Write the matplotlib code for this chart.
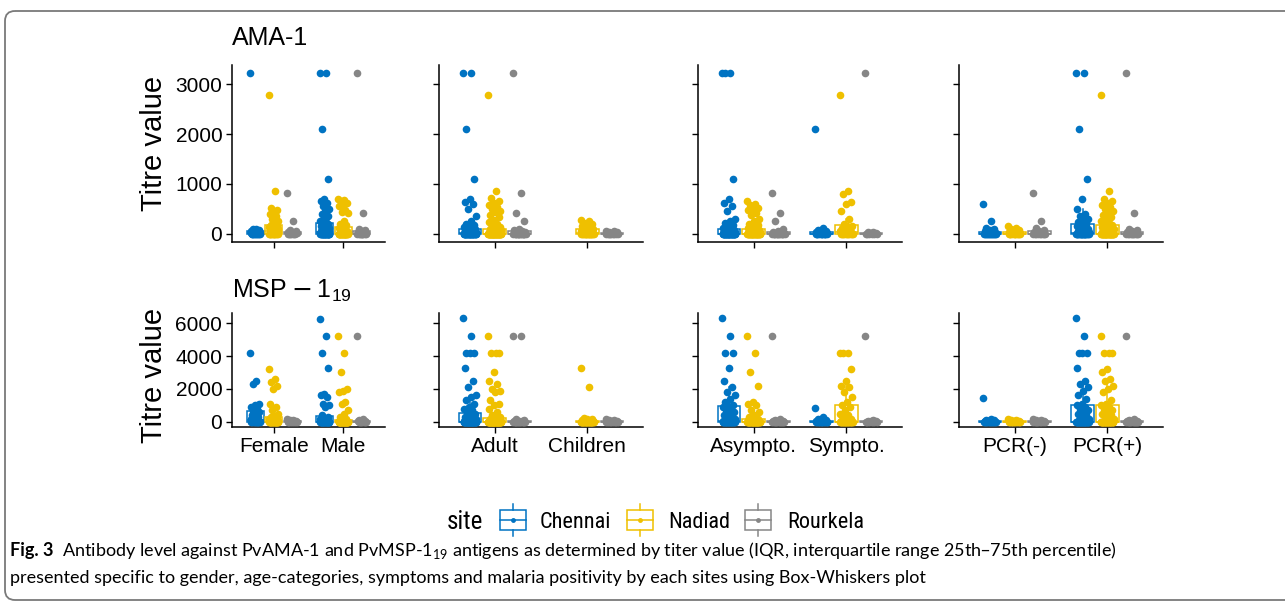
import numpy as np
import matplotlib
matplotlib.use("Agg")
import matplotlib.pyplot as plt
from matplotlib import font_manager
from matplotlib.patches import FancyBboxPatch, Rectangle

# ---- data: titre values (AMA-1 row) ----
ama_female_chennai = [3220, 100, 90, 80, 70, 60, 50, 40, 30, 25, 20, 15, 10, 10, 5, 5] + [0] * 8
ama_female_nadiad = [2790, 850, 520, 480, 440, 400, 350, 300, 250, 200, 170, 160, 150, 140, 120, 100,
                     90, 80, 70, 60, 50, 40, 30, 25, 20, 15, 10, 10, 5, 5] + [0] * 10
ama_female_rourkela = [820, 260, 80, 60, 40, 30, 20, 15, 10, 5] + [0] * 6
ama_male_chennai = [3220, 3220, 2110, 1100, 700, 660, 620, 560, 500, 450, 400, 350, 300, 260, 230, 210,
                    200, 180, 160, 150, 140, 120, 100, 90, 80, 70, 60, 50, 45, 40, 35, 30, 25, 20, 15,
                    10, 10, 5, 5, 5] + [0] * 20
ama_male_nadiad = [700, 680, 650, 620, 580, 550, 480, 440, 420, 250, 200, 170, 150, 120, 100, 80, 60,
                   50, 40, 30, 25, 20, 15, 10, 10, 5, 5] + [0] * 23
ama_male_rourkela = [3220, 420, 100, 80, 60, 40, 30, 20, 10, 5] + [0] * 8

ama_adult_chennai = [3220, 3220, 2110, 1100, 700, 640, 600, 500, 350, 250, 200, 180, 150, 130, 110, 100,
                     90, 80, 70, 60, 50, 45, 40, 35, 30, 25, 20, 15, 10, 10, 5, 5] + [0] * 26
ama_adult_nadiad = [2790, 850, 720, 660, 620, 580, 540, 500, 460, 430, 380, 330, 280, 240, 200, 160, 130,
                    110, 100, 90, 80, 70, 60, 50, 45, 40, 35, 30, 25, 20, 15, 10, 10, 5, 5, 5] + [0] * 38
ama_adult_rourkela = [3220, 820, 420, 250, 100, 80, 60, 40, 30, 20, 10, 5] + [0] * 14
ama_children_chennai = []
ama_children_nadiad = [280, 250, 220, 200, 180, 160, 140, 120, 100, 90, 80, 70, 60, 50, 40, 30, 20, 15,
                       10, 5] + [0] * 16
ama_children_rourkela = [60, 50, 40, 30, 20, 15, 10, 5] + [0] * 8

ama_asympto_chennai = [3220, 3220, 3220, 1100, 700, 620, 560, 460, 300, 260, 220, 180, 150, 120, 100, 90,
                       80, 70, 60, 50, 40, 35, 30, 25, 20, 15, 10, 10, 5, 5] + [0] * 30
ama_asympto_nadiad = [650, 600, 570, 520, 500, 470, 420, 380, 300, 250, 200, 180, 150, 120, 100, 90, 80,
                      70, 60, 50, 40, 30, 25, 20, 15, 10, 10, 5, 5] + [0] * 27
ama_asympto_rourkela = [820, 420, 250, 100, 60, 40, 30, 20, 10, 5] + [0] * 12
ama_sympto_chennai = [2110, 120, 80, 60, 40, 30, 20, 15, 10, 5, 5] + [0] * 9
ama_sympto_nadiad = [2790, 850, 800, 630, 600, 450, 300, 200, 160, 150, 120, 100, 80, 60, 50, 40, 30,
                     20, 15, 10, 10, 5, 5] + [0] * 9
ama_sympto_rourkela = [3220, 40, 30, 20, 10, 5] + [0] * 5

ama_pcrneg_chennai = [600, 250, 120, 90, 70, 50, 40, 30, 20, 15, 10, 5, 5] + [0] * 11
ama_pcrneg_nadiad = [150, 120, 100, 80, 60, 40, 30, 20, 10, 5] + [0] * 10
ama_pcrneg_rourkela = [820, 250, 120, 80, 60, 40, 20, 10, 5] + [0] * 8
ama_pcrpos_chennai = [3220, 3220, 2110, 1100, 700, 500, 400, 350, 300, 260, 230, 200, 180, 160, 140, 120,
                      100, 80, 60, 50, 40, 30, 20, 15, 10, 5, 5] + [0] * 17
ama_pcrpos_nadiad = [2790, 850, 700, 660, 620, 580, 540, 500, 460, 420, 380, 340, 300, 260, 220, 200,
                     180, 160, 140, 120, 100, 90, 80, 70, 60, 50, 40, 30, 20, 15, 10, 5, 5] + [0] * 31
ama_pcrpos_rourkela = [3220, 420, 100, 70, 50, 30, 20, 10, 5] + [0] * 9

# ---- data: MSP-1(19) row ----
msp_female_chennai = [4200, 2500, 2300, 1100, 1000, 900, 800, 650, 600, 500, 400, 300, 200, 150, 100,
                      80, 60, 40, 20, 10] + [0] * 8
msp_female_nadiad = [3200, 2600, 2400, 2200, 2000, 1100, 900, 700, 500, 350, 300, 250, 200, 150, 100,
                     80, 60, 40, 20, 10, 5] + [0] * 19
msp_female_rourkela = [150, 120, 100, 80, 60, 40, 30, 20, 10] + [0] * 5
msp_male_chennai = [6250, 5200, 4200, 3300, 1700, 1600, 1500, 1100, 1000, 900, 400, 300, 250, 200, 150,
                    100, 80, 60, 40, 20, 10, 5] + [0] * 21
msp_male_nadiad = [5200, 4200, 3000, 2000, 1900, 1800, 1200, 1100, 700, 500, 300, 150, 100, 60, 40, 20,
                   10, 5] + [0] * 30
msp_male_rourkela = [5200, 150, 100, 80, 50, 30, 10] + [0] * 6

msp_adult_chennai = [6300, 5200, 4200, 4200, 4200, 3300, 2500, 2100, 1600, 1500, 1300, 1100, 900, 800,
                     700, 600, 500, 400, 300, 250, 200, 150, 100, 80, 60, 40, 20, 10, 5] + [0] * 35
msp_adult_nadiad = [5200, 4200, 4200, 4200, 3000, 2500, 2300, 2000, 1900, 1800, 1300, 1100, 1000, 800,
                    600, 400, 300, 250, 200, 150, 100, 80, 60, 40, 20, 10, 5] + [0] * 45
msp_adult_rourkela = [5200, 5200, 150, 100, 80, 50, 30, 10] + [0] * 12
msp_children_chennai = []
msp_children_nadiad = [3250, 2100, 250, 200, 150, 100, 80, 60, 40, 20, 10, 5] + [0] * 24
msp_children_rourkela = [150, 120, 100, 60, 40, 20, 10] + [0] * 7

msp_asympto_chennai = [6300, 5200, 4200, 4200, 3300, 2500, 2100, 1800, 1600, 1400, 1200, 1000, 950, 900,
                       800, 700, 600, 500, 400, 300, 250, 200, 150, 100, 80, 60, 40, 20, 10, 5] + [0] * 20
msp_asympto_nadiad = [5200, 4200, 3000, 2200, 1200, 1100, 1000, 700, 600, 400, 300, 200, 150, 100, 60,
                      40, 20, 10, 5] + [0] * 30
msp_asympto_rourkela = [5200, 150, 100, 80, 50, 30, 10] + [0] * 10
msp_sympto_chennai = [850, 300, 150, 100, 60, 40, 20, 10, 5] + [0] * 9
msp_sympto_nadiad = [4200, 4200, 4200, 3200, 2500, 2200, 2100, 1800, 1500, 1200, 1000, 900, 700, 500,
                     400, 300, 200, 100, 50, 20] + [0] * 20
msp_sympto_rourkela = [5200, 120, 80, 50, 20] + [0] * 6

msp_pcrneg_chennai = [1450, 150, 120, 100, 80, 60, 40, 20, 10] + [0] * 11
msp_pcrneg_nadiad = [150, 120, 100, 80, 60, 40, 20, 10] + [0] * 8
msp_pcrneg_rourkela = [150, 120, 100, 80, 60, 40, 20, 10] + [0] * 8
msp_pcrpos_chennai = [6300, 5200, 4200, 4200, 4200, 3300, 2500, 2300, 2100, 1900, 1600, 1400, 1100, 1000,
                      900, 800, 700, 600, 500, 400, 300, 200, 150, 100, 50, 20] + [0] * 26
msp_pcrpos_nadiad = [5200, 4200, 4200, 4200, 3200, 3000, 2600, 2500, 2200, 2000, 1800, 1300, 1100, 1000,
                     900, 800, 700, 600, 500, 400, 300, 200, 100, 50, 20] + [0] * 28
msp_pcrpos_rourkela = [5200, 150, 100, 80, 60, 30, 10] + [0] * 10

sites = ["Chennai", "Nadiad", "Rourkela"]
site_colors = ["#0073C2", "#EFC000", "#868686"]
panel_categories = [["Female", "Male"], ["Adult", "Children"],
                    ["Asympto.", "Sympto."], ["PCR(-)", "PCR(+)"]]
row_titles = ["AMA-1", r"$\mathdefault{MSP}-\mathdefault{1}_{\mathdefault{19}}$"]
row_yticks = [[0, 1000, 2000, 3000], [0, 2000, 4000, 6000]]

ama_panels = [
    [[ama_female_chennai, ama_female_nadiad, ama_female_rourkela],
     [ama_male_chennai, ama_male_nadiad, ama_male_rourkela]],
    [[ama_adult_chennai, ama_adult_nadiad, ama_adult_rourkela],
     [ama_children_chennai, ama_children_nadiad, ama_children_rourkela]],
    [[ama_asympto_chennai, ama_asympto_nadiad, ama_asympto_rourkela],
     [ama_sympto_chennai, ama_sympto_nadiad, ama_sympto_rourkela]],
    [[ama_pcrneg_chennai, ama_pcrneg_nadiad, ama_pcrneg_rourkela],
     [ama_pcrpos_chennai, ama_pcrpos_nadiad, ama_pcrpos_rourkela]],
]
msp_panels = [
    [[msp_female_chennai, msp_female_nadiad, msp_female_rourkela],
     [msp_male_chennai, msp_male_nadiad, msp_male_rourkela]],
    [[msp_adult_chennai, msp_adult_nadiad, msp_adult_rourkela],
     [msp_children_chennai, msp_children_nadiad, msp_children_rourkela]],
    [[msp_asympto_chennai, msp_asympto_nadiad, msp_asympto_rourkela],
     [msp_sympto_chennai, msp_sympto_nadiad, msp_sympto_rourkela]],
    [[msp_pcrneg_chennai, msp_pcrneg_nadiad, msp_pcrneg_rourkela],
     [msp_pcrpos_chennai, msp_pcrpos_nadiad, msp_pcrpos_rourkela]],
]


def pick_font(*names):
    avail = {f.name for f in font_manager.fontManager.ttflist}
    for n in names:
        if n in avail:
            return n
    return "DejaVu Sans"


plt.rcParams["font.family"] = "Liberation Sans"
legend_font = pick_font("Roboto Condensed", "Roboto")
caption_font = pick_font("Lato", "Open Sans")

W, H = 1285, 601
fig = plt.figure(figsize=(W / 100, H / 100), dpi=100)

# overlay in pixel coordinates for frame / legend / caption
over = fig.add_axes([0, 0, 1, 1])
over.set_xlim(0, W)
over.set_ylim(H, 0)
over.axis("off")
over.add_patch(FancyBboxPatch((5, 11), 1320, 589, boxstyle="round,pad=0,rounding_size=10",
                              fill=False, ec="#7a7a7a", lw=1.3))

col_px = [(232, 385), (439, 643), (698, 902), (959, 1163)]
row_px = [(65, 242), (313, 427)]
row_ylim = [(-161, 3381), (-315, 6615)]
dodge = 0.267
box_w = 0.245
jit = 0.07


def jitter(n):
    return ((np.arange(n) * 0.618034) % 1 - 0.5) * 2 * jit


for r, panels in enumerate([ama_panels, msp_panels]):
    y0, y1 = row_px[r]
    for c, groups in enumerate(panels):
        x0, x1 = col_px[c]
        ax = fig.add_axes([x0 / W, 1 - y1 / H, (x1 - x0) / W, (y1 - y0) / H])
        for ci, cat in enumerate(groups):
            for si, vals in enumerate(cat):
                if len(vals) == 0:
                    continue
                col = site_colors[si]
                pos = ci + 1 + (si - 1) * dodge
                ax.boxplot([vals], positions=[pos], widths=box_w, showfliers=False, showcaps=False,
                           patch_artist=True, manage_ticks=False,
                           boxprops=dict(facecolor="white", edgecolor=col, linewidth=1.1),
                           whiskerprops=dict(color=col, linewidth=1.1),
                           medianprops=dict(color=col, linewidth=1.1), zorder=2)
                ax.plot(pos + jitter(len(vals)), vals, "o", ms=5.5, color=col, mew=0, zorder=3)
        ax.set_xlim(0.4, 2.6)
        ax.set_ylim(*row_ylim[r])
        ax.set_xticks([1, 2])
        ax.set_yticks(row_yticks[r])
        if r == 1:
            ax.set_xticklabels(panel_categories[c], fontsize=15)
        else:
            ax.set_xticklabels([])
        if c == 0:
            ax.set_yticklabels([str(t) for t in row_yticks[r]], fontsize=15)
        else:
            ax.set_yticklabels([])
        for s in ["top", "right"]:
            ax.spines[s].set_visible(False)
        for s in ["left", "bottom"]:
            ax.spines[s].set_linewidth(1.1)
        ax.tick_params(length=4, width=1.0, color="black", labelcolor="black", pad=3)
        ax.patch.set_alpha(0)
    # row title and y label
    fig.text(232 / W, 1 - (45 if r == 0 else 298) / H, row_titles[r], fontsize=18,
             ha="left", va="baseline")
    fig.text(154 / W, 1 - (143 if r == 0 else 375) / H, "Titre value", fontsize=21,
             rotation=90, ha="center", va="center")

# legend
over.text(447, 522, "site", fontsize=18, family=legend_font, ha="left", va="center")
key_x = [500, 627, 745]
label_x = [540, 668, 787]
for kx, lx, col, name in zip(key_x, label_x, site_colors, sites):
    over.add_patch(Rectangle((kx, 510), 26, 20, fill=False, ec=col, lw=1.1))
    over.plot([kx + 13, kx + 13], [504, 510], color=col, lw=1.1)
    over.plot([kx + 13, kx + 13], [530, 536], color=col, lw=1.1)
    over.plot([kx, kx + 26], [520, 520], color=col, lw=1.1)
    over.plot([kx + 13], [520], "o", ms=3.5, color=col, mew=0)
    over.text(lx, 522, name, fontsize=16, family=legend_font, ha="left", va="center")

# caption
fig_lbl = over.text(10, 556, "Fig. 3", fontsize=13, family=caption_font, weight="bold",
                    ha="left", va="baseline")
over.annotate("Antibody level against PvAMA-1 and PvMSP-1$_{\\mathdefault{19}}$ antigens as determined "
              "by titer value (IQR, interquartile range 25th\u201375th percentile)",
              xy=(1, 556), xycoords=(fig_lbl, "data"), xytext=(6, 0), textcoords="offset points",
              fontsize=13, family=caption_font, ha="left", va="baseline")
over.text(10, 583, "presented specific to gender, age-categories, symptoms and malaria positivity by "
          "each sites using Box-Whiskers plot", fontsize=13, family=caption_font,
          ha="left", va="baseline")

fig.savefig("out.png", dpi=100)
